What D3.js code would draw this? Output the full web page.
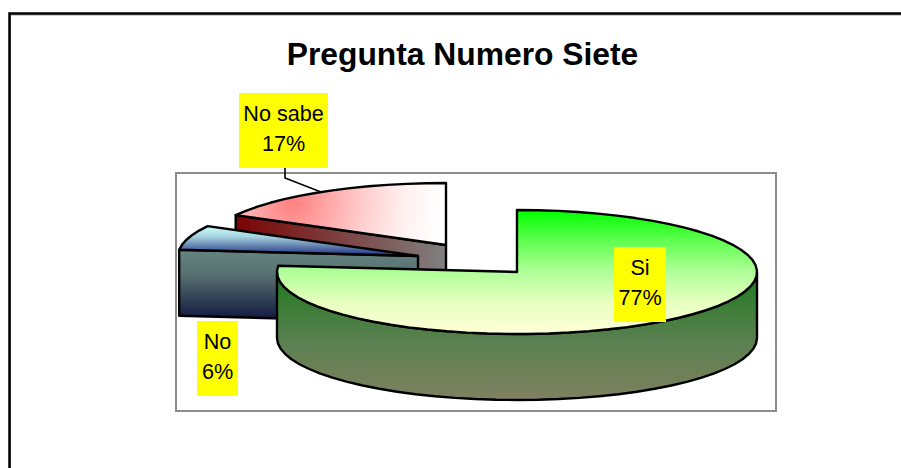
<!DOCTYPE html>
<html>
<head>
<meta charset="utf-8">
<script src="https://d3js.org/d3.v7.min.js"></script>
<style>
  html, body { margin: 0; padding: 0; background: #fff; }
  svg { display: block; }
  text { font-family: "Liberation Sans", Arial, sans-serif; fill: #000; }
</style>
</head>
<body>
<svg></svg>
<script>
var width = 901;
var height = 468;

var categories = ["Si", "No", "No sabe"];
var values = [76.6, 6.4, 17.0];

var rx = 240;
var ry = 62;
var depth = 66;

// where each exploded slice has its tip
var tips = {
  "Si": [517, 272],
  "No": [418, 256],
  "No sabe": [446, 245]
};

var svg = d3.select("svg")
  .attr("width", width)
  .attr("height", height);

var defs = svg.append("defs");

function linearGrad(id, x1, y1, x2, y2, stops) {
  var g = defs.append("linearGradient")
    .attr("id", id)
    .attr("gradientUnits", "userSpaceOnUse")
    .attr("x1", x1).attr("y1", y1)
    .attr("x2", x2).attr("y2", y2);
  stops.forEach(function(s) {
    g.append("stop").attr("offset", s[0]).attr("stop-color", s[1]);
  });
}

linearGrad("siTop", 0, 210, 0, 334, [[0, "#00ff00"], [0.25, "#60ff50"], [0.5, "#b0ff98"], [0.75, "#e8ffc0"], [1, "#ffffd8"]]);
linearGrad("siWall", 0, 270, 0, 400, [[0, "#1c7a1c"], [0.55, "#5a8050"], [1, "#808060"]]);
linearGrad("noTop", 0, 226, 0, 256, [[0, "#ccffff"], [0.35, "#a8d4e0"], [1, "#1c2c80"]]);
linearGrad("noWall", 0, 250, 0, 320, [[0, "#648480"], [0.35, "#587070"], [1, "#101840"]]);
linearGrad("sabeWall", 237, 0, 446, 0, [[0, "#7a0404"], [1, "#808080"]]);

var sabeTop = defs.append("radialGradient")
  .attr("id", "sabeTop")
  .attr("gradientUnits", "userSpaceOnUse")
  .attr("cx", 292).attr("cy", 202).attr("r", 150);
[[0, "#ff8080"], [0.25, "#ffa8a8"], [0.5, "#ffd0d0"], [0.75, "#fff0f0"], [1, "#ffffff"]].forEach(function(s) {
  sabeTop.append("stop").attr("offset", s[0]).attr("stop-color", s[1]);
});

var topFill = { "Si": "url(#siTop)", "No": "url(#noTop)", "No sabe": "url(#sabeTop)" };

// chart frame, only top and left show
svg.append("path")
  .attr("d", "M10.5," + height + "V15H" + width)
  .attr("fill", "none").attr("stroke", "#999").attr("stroke-width", 1);
svg.append("path")
  .attr("d", "M9.5," + height + "V13.5H" + width)
  .attr("fill", "none").attr("stroke", "#000").attr("stroke-width", 2.5);

svg.append("text")
  .attr("x", 462.5).attr("y", 65)
  .attr("text-anchor", "middle")
  .attr("font-weight", "bold")
  .attr("font-size", 31.8)
  .text("Pregunta Numero Siete");

// plot area
svg.append("rect")
  .attr("x", 176).attr("y", 173)
  .attr("width", 600).attr("height", 238)
  .attr("fill", "#fff")
  .attr("stroke", "#8c8c8c")
  .attr("stroke-width", 2);

var pie = d3.pie().sort(null).startAngle(0).endAngle(2 * Math.PI);
var arcs = pie(values);

var line = d3.line();

function rim(tip, a) {
  return [tip[0] + rx * Math.sin(a), tip[1] - ry * Math.cos(a)];
}

function rimPoints(tip, a0, a1) {
  var pts = [];
  var n = Math.ceil((a1 - a0) / (Math.PI / 36));
  d3.range(n + 1).forEach(function(i) {
    pts.push(rim(tip, a0 + (a1 - a0) * i / n));
  });
  return pts;
}

function down(p) {
  return [p[0], p[1] + depth];
}

function drawPath(pts, fill) {
  svg.append("path")
    .attr("d", line(pts) + "Z")
    .attr("fill", fill)
    .attr("stroke", "#000")
    .attr("stroke-width", 2.4)
    .attr("stroke-linejoin", "round");
}

// back to front: No sabe, No, Si
var order = [2, 1, 0];
order.forEach(function(i) {
  var name = categories[i];
  var tip = tips[name];
  var a0 = arcs[i].startAngle;
  var a1 = arcs[i].endAngle;

  if (name == "Si") {
    // outer wall, from the right side round the front to the left side
    var front = rimPoints(tip, Math.PI / 2, 3 * Math.PI / 2);
    drawPath(front.concat(front.map(down).reverse()), "url(#siWall)");
  } else {
    // cut face seen from the front
    var cutEnd = rim(tip, a0);
    var wallFill = name == "No" ? "url(#noWall)" : "url(#sabeWall)";
    drawPath([cutEnd, tip, down(tip), down(cutEnd)], wallFill);
  }

  drawPath([tip].concat(rimPoints(tip, a0, a1)), topFill[name]);
});

// leader for No sabe
svg.append("path")
  .attr("d", "M285,168V178L321,192")
  .attr("fill", "none")
  .attr("stroke", "#000")
  .attr("stroke-width", 1.6);

var labelBoxes = [
  { x: 614, y: 247, w: 52, h: 75 },
  { x: 197, y: 321, w: 41, h: 75 },
  { x: 239, y: 93, w: 89, h: 75 }
];

categories.forEach(function(name, i) {
  var b = labelBoxes[i];
  svg.append("rect")
    .attr("x", b.x).attr("y", b.y)
    .attr("width", b.w).attr("height", b.h)
    .attr("fill", "#ffff00");
  svg.append("text")
    .attr("x", b.x + b.w / 2).attr("y", b.y + 28)
    .attr("text-anchor", "middle")
    .attr("font-size", 21.6)
    .text(name);
  svg.append("text")
    .attr("x", b.x + b.w / 2).attr("y", b.y + 58)
    .attr("text-anchor", "middle")
    .attr("font-size", 21.6)
    .text(d3.format(".0f")(values[i]) + "%");
});
</script>
</body>
</html>
